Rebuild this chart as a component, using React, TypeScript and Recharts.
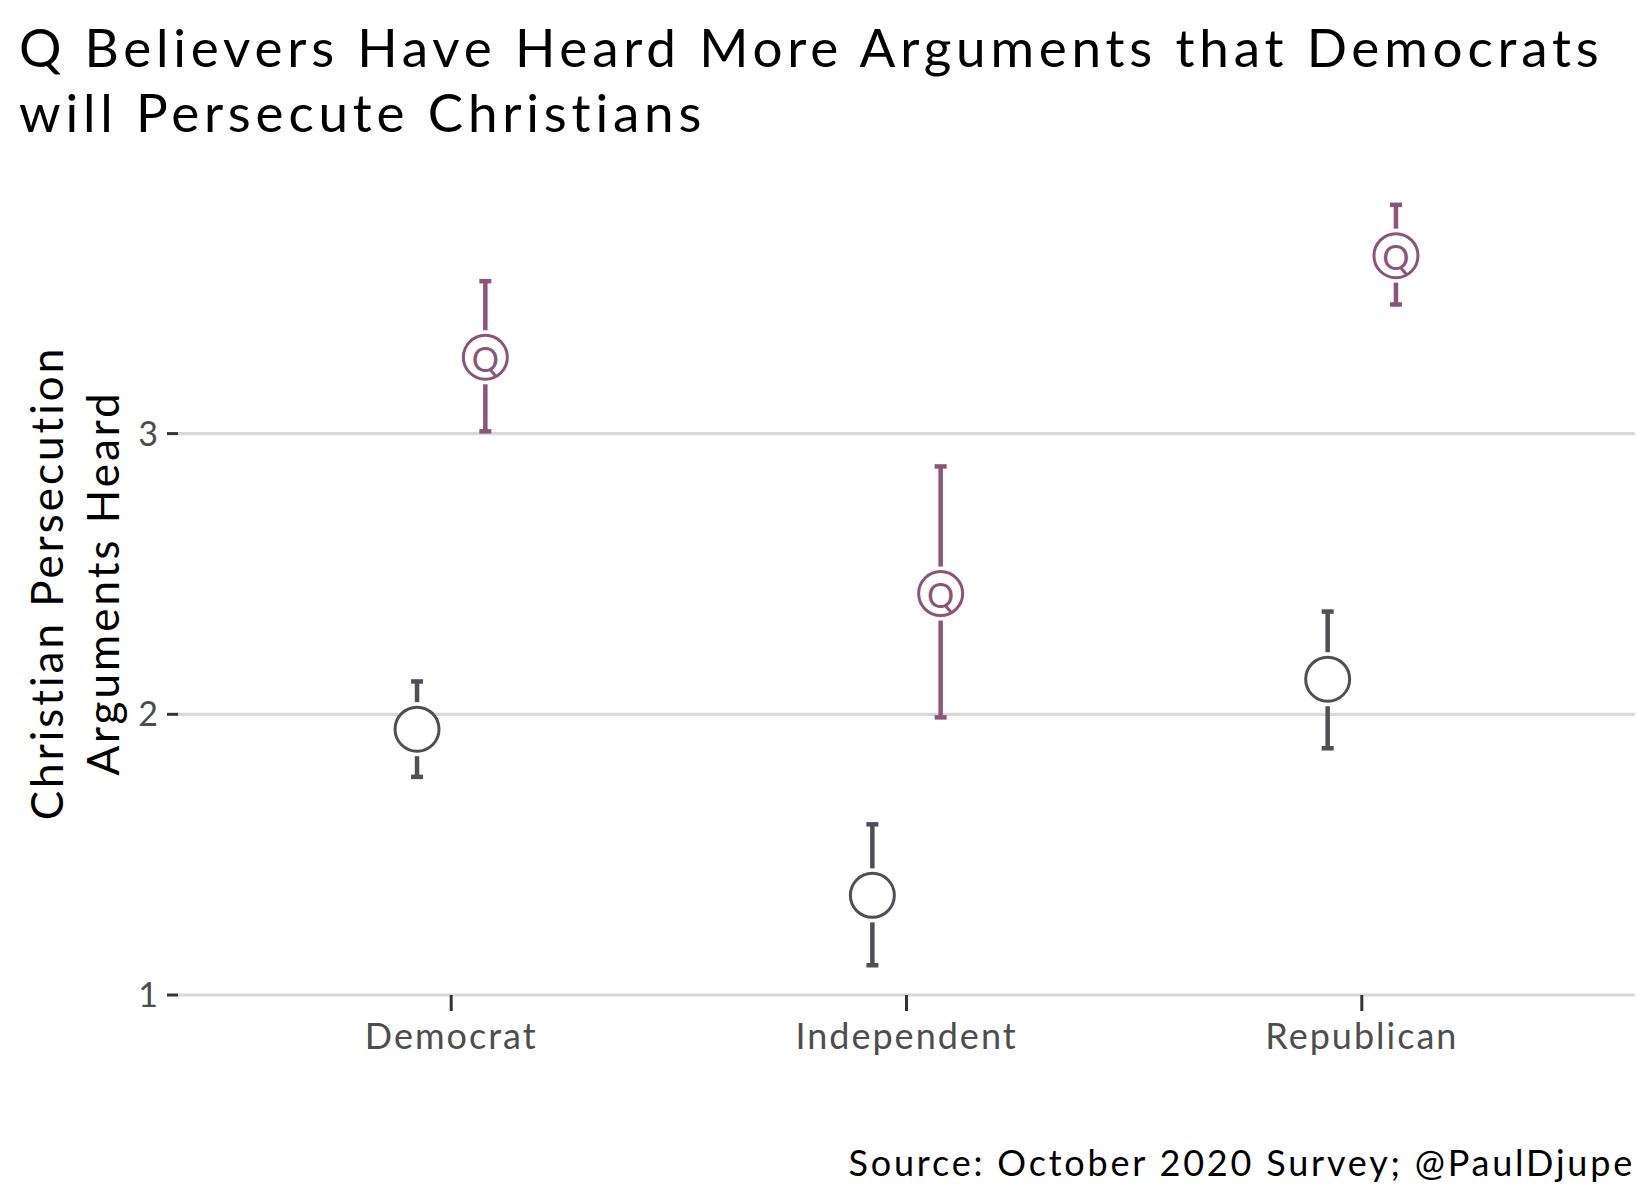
import React from 'react';
import { ComposedChart, Scatter, XAxis, YAxis, CartesianGrid, ErrorBar } from 'recharts';

const categories = ['Democrat', 'Independent', 'Republican'];
const nonQMean = [1.947, 1.355, 2.125];
const nonQLow = [1.777, 1.106, 1.879];
const nonQHigh = [2.117, 1.608, 2.366];
const qMean = [3.272, 2.43, 3.634];
const qLow = [3.008, 1.989, 3.46];
const qHigh = [3.543, 2.883, 3.815];
const yTicks = [1, 2, 3];

const DODGE = 0.075;
const PURPLE = '#8a5579';
const GRAY = '#4f4f57';
const FONT = 'Lato, "Noto Sans", sans-serif';

const build = (mean: number[], low: number[], high: number[], off: number) =>
  categories.map((c, i) => ({
    cat: c,
    x: i + 1 + off,
    y: mean[i],
    err: [mean[i] - low[i], high[i] - mean[i]],
  }));

const nonQData = build(nonQMean, nonQLow, nonQHigh, -DODGE);
const qData = build(qMean, qLow, qHigh, DODGE);

const Dot = (props: any) => {
  const { cx, cy, color, label } = props;
  if (cx == null || cy == null) return null;
  const r = 22;
  return (
    <g>
      <rect x={cx - 4} y={cy - r - 5} width={8} height={2 * r + 10} fill="#fff" />
      <circle cx={cx} cy={cy} r={r} fill="#fff" stroke={color} strokeWidth={3} />
      {label ? (
        <text x={cx} y={cy + 1} textAnchor="middle" dominantBaseline="central" fill={color} fontSize={34} fontFamily={FONT}>
          {label}
        </text>
      ) : null}
    </g>
  );
};

export default function App() {
  return (
    <div style={{ position: 'absolute', left: 0, top: 0, width: 1650, height: 1200, background: '#fff', fontFamily: FONT }}>
      <div style={{ position: 'absolute', left: 19, top: 14, fontSize: 53, lineHeight: '65px', color: '#000', letterSpacing: 4.8, whiteSpace: 'nowrap' }}>
        Q Believers Have Heard More Arguments that Democrats
        <br />
        will Persecute Christians
      </div>
      <div
        style={{
          position: 'absolute',
          left: 74,
          top: 583,
          transform: 'translate(-50%, -50%) rotate(-90deg)',
          fontSize: 44,
          lineHeight: '56px',
          letterSpacing: 3,
          textAlign: 'center',
          whiteSpace: 'nowrap',
          color: '#000',
        }}
      >
        Christian Persecution
        <br />
        Arguments Heard
      </div>
      <div style={{ position: 'absolute', right: 15, top: 1140, fontSize: 36, letterSpacing: 2.8, color: '#000', whiteSpace: 'nowrap' }}>
        Source: October 2020 Survey; @PaulDjupe
      </div>
      <ComposedChart width={1650} height={1200} margin={{ top: 195, right: 15, bottom: 130, left: 0 }}>
        <CartesianGrid vertical={false} horizontalValues={yTicks} stroke="#d9d9d9" strokeWidth={3.2} />
        <XAxis
          type="number"
          dataKey="x"
          domain={[0.4, 3.6]}
          ticks={yTicks}
          tickFormatter={(v: number) => categories[v - 1] ?? ''}
          axisLine={false}
          tickLine={{ stroke: '#333', strokeWidth: 3 }}
          tickSize={16}
          tickMargin={12}
          height={75}
          allowDataOverflow
          tick={{ fill: '#4d4d4d', fontSize: 36, fontFamily: FONT, letterSpacing: 2 }}
        />
        <YAxis
          type="number"
          dataKey="y"
          domain={[1, 3.85]}
          ticks={yTicks}
          axisLine={false}
          tickLine={{ stroke: '#333', strokeWidth: 3 }}
          tickSize={11}
          tickMargin={9}
          width={178}
          allowDataOverflow
          tick={{ fill: '#4d4d4d', fontSize: 34, fontFamily: FONT }}
        />
        <Scatter data={nonQData} isAnimationActive={false} shape={(p: any) => <Dot {...p} color={GRAY} />}>
          <ErrorBar dataKey="err" direction="y" width={6} stroke={GRAY} strokeWidth={4.5} isAnimationActive={false} />
        </Scatter>
        <Scatter data={qData} isAnimationActive={false} shape={(p: any) => <Dot {...p} color={PURPLE} label="Q" />}>
          <ErrorBar dataKey="err" direction="y" width={6} stroke={PURPLE} strokeWidth={4.5} isAnimationActive={false} />
        </Scatter>
      </ComposedChart>
    </div>
  );
}
